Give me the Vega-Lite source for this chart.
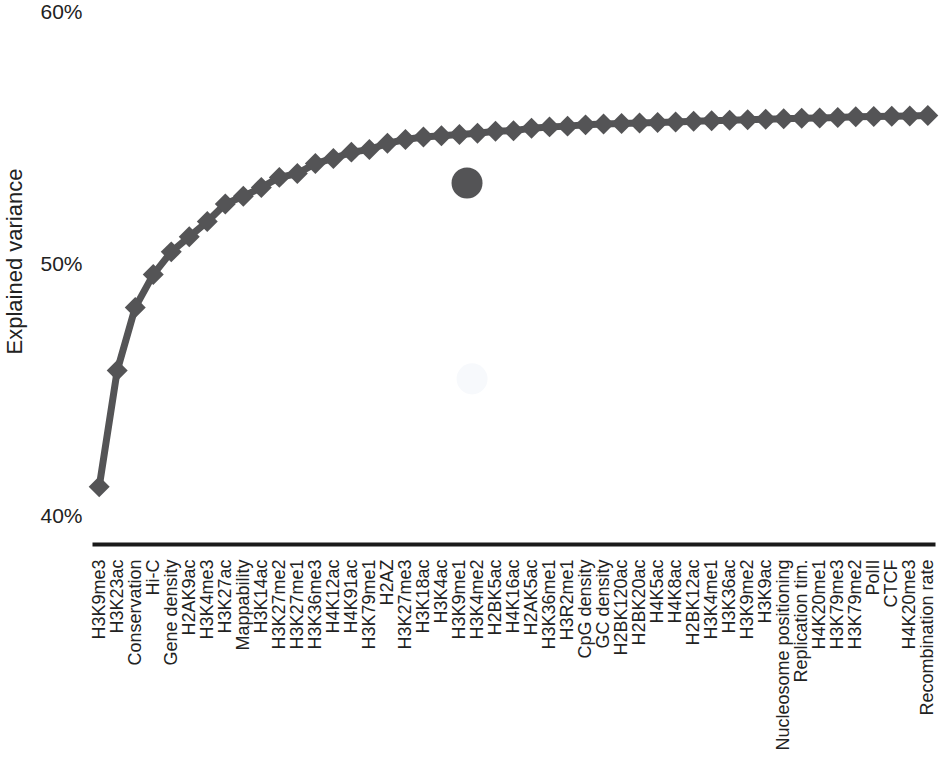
{
  "$schema": "https://vega.github.io/schema/vega-lite/v6.json",
  "width": 843,
  "height": 532,
  "autosize": {"type": "none"},
  "padding": {"left": 92, "top": 12, "right": 11, "bottom": 216},
  "background": "white",
  "config": {"view": {"stroke": null}, "font": "Liberation Sans"},
  "datasets": {
    "curve": [
      {"feature": "H3K9me3", "v": 41.2},
      {"feature": "H3K23ac", "v": 45.8},
      {"feature": "Conservation", "v": 48.3},
      {"feature": "Hi-C", "v": 49.6},
      {"feature": "Gene density", "v": 50.5},
      {"feature": "H2AK9ac", "v": 51.1},
      {"feature": "H3K4me3", "v": 51.7},
      {"feature": "H3K27ac", "v": 52.4},
      {"feature": "Mappability", "v": 52.7},
      {"feature": "H3K14ac", "v": 53.05},
      {"feature": "H3K27me2", "v": 53.45},
      {"feature": "H3K27me1", "v": 53.6},
      {"feature": "H3K36me3", "v": 54.0},
      {"feature": "H4K12ac", "v": 54.2},
      {"feature": "H4K91ac", "v": 54.45},
      {"feature": "H3K79me1", "v": 54.55},
      {"feature": "H2AZ", "v": 54.8},
      {"feature": "H3K27me3", "v": 54.95},
      {"feature": "H3K18ac", "v": 55.05},
      {"feature": "H3K4ac", "v": 55.1},
      {"feature": "H3K9me1", "v": 55.15},
      {"feature": "H3K4me2", "v": 55.2},
      {"feature": "H2BK5ac", "v": 55.28},
      {"feature": "H4K16ac", "v": 55.3},
      {"feature": "H2AK5ac", "v": 55.4},
      {"feature": "H3K36me1", "v": 55.45},
      {"feature": "H3R2me1", "v": 55.48},
      {"feature": "CpG density", "v": 55.53},
      {"feature": "GC density", "v": 55.56},
      {"feature": "H2BK120ac", "v": 55.58},
      {"feature": "H2BK20ac", "v": 55.6},
      {"feature": "H4K5ac", "v": 55.62},
      {"feature": "H4K8ac", "v": 55.64},
      {"feature": "H2BK12ac", "v": 55.67},
      {"feature": "H3K4me1", "v": 55.69},
      {"feature": "H3K36ac", "v": 55.71},
      {"feature": "H3K9me2", "v": 55.73},
      {"feature": "H3K9ac", "v": 55.75},
      {"feature": "Nucleosome positioning", "v": 55.77},
      {"feature": "Replication tim.", "v": 55.79},
      {"feature": "H4K20me1", "v": 55.8},
      {"feature": "H3K79me3", "v": 55.82},
      {"feature": "H3K79me2", "v": 55.85},
      {"feature": "PolII", "v": 55.86},
      {"feature": "CTCF", "v": 55.87},
      {"feature": "H4K20me3", "v": 55.88},
      {"feature": "Recombination rate", "v": 55.9}
    ],
    "dots": [
      {"kind": "dark", "pos": 20.42, "v": 53.23},
      {"kind": "light", "pos": 20.7, "v": 45.47}
    ]
  },
  "layer": [
    {
      "data": {"name": "curve"},
      "layer": [
        {
          "mark": {"type": "line", "color": "#545456", "strokeWidth": 7},
          "encoding": {}
        },
        {
          "mark": {"type": "point", "shape": "diamond", "filled": true, "opacity": 1, "size": 440, "color": "#545456"},
          "encoding": {}
        }
      ],
      "encoding": {
        "x": {
          "field": "feature",
          "type": "nominal",
          "sort": null,
          "scale": {"type": "point", "padding": 0.4},
          "axis": {
            "title": null,
            "domain": true,
            "domainColor": "#1a1a1a",
            "domainWidth": 4,
            "ticks": false,
            "grid": false,
            "labelAngle": 270,
            "labelAlign": "right",
            "labelBaseline": "middle",
            "labelPadding": 15,
            "labelFontSize": 18,
            "labelColor": "#222222",
            "labelOverlap": false,
            "labelLimit": 0
          }
        },
        "y": {
          "field": "v",
          "type": "quantitative",
          "scale": {"domain": [38.93, 60], "nice": false, "zero": false},
          "axis": {
            "title": "Explained variance",
            "titleFontSize": 22,
            "titleFontWeight": "normal",
            "titleColor": "#222222",
            "titlePadding": 13,
            "titleY": 249,
            "values": [40, 50, 60],
            "labelExpr": "datum.value + '%'",
            "labelFontSize": 21,
            "labelColor": "#222222",
            "labelPadding": 10,
            "domain": false,
            "ticks": false,
            "grid": false
          }
        }
      }
    },
    {
      "data": {"name": "dots"},
      "mark": {"type": "point", "shape": "circle", "filled": true, "opacity": 1, "size": 962},
      "encoding": {
        "x": {"field": "pos", "type": "quantitative", "scale": {"domain": [-0.4, 46.4], "nice": false, "zero": false}, "axis": null},
        "y": {"field": "v", "type": "quantitative"},
        "color": {
          "field": "kind",
          "type": "nominal",
          "scale": {"domain": ["dark", "light"], "range": ["#545456", "#f7f9fc"]},
          "legend": null
        }
      }
    }
  ],
  "resolve": {"scale": {"x": "independent"}}
}
